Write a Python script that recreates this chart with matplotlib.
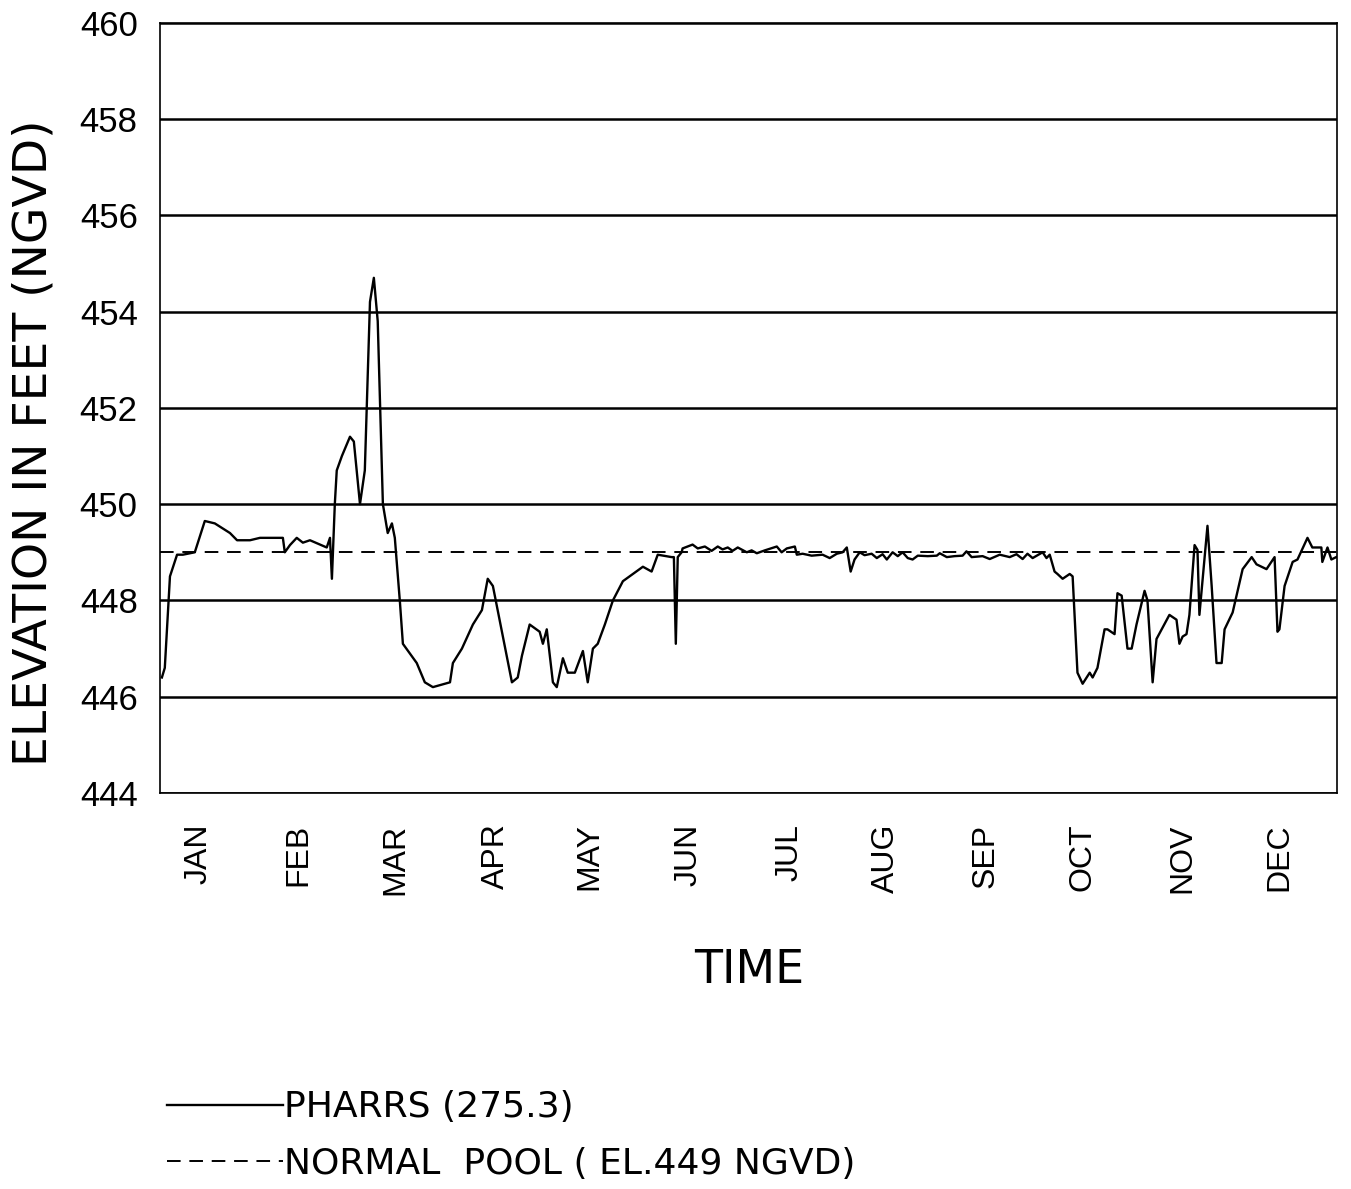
#Pharrs pool elevation over one year, recreated from a scanned plot
import matplotlib
matplotlib.use("Agg")
import matplotlib.pyplot as plt

narrow = ['DejaVu Sans Condensed', 'Liberation Sans Narrow', 'DejaVu Sans']
plt.rcParams['font.family'] = ['Liberation Sans', 'DejaVu Sans']

#day of year
days = [0.6, 1.5, 3.1, 5.3, 7.1, 10.8, 13.9, 17.0, 21.7, 23.9, 27.9, 31.0, 36.3, 38.1, 38.7,
	40.3, 42.4, 44.3, 46.5, 51.7, 52.7, 53.3, 54.2, 54.8, 56.4, 58.9, 60.1, 62.0, 63.5,
	65.1, 66.3, 67.5, 69.1, 70.6, 71.9, 72.8, 74.4, 75.3, 79.6, 82.1, 84.6, 89.9, 90.8,
	93.6, 97.0, 99.8, 101.6, 103.2, 109.1, 110.9, 112.2, 114.6, 117.7, 118.7, 119.9,
	121.8, 123.0, 124.9, 126.4, 128.6, 131.1, 132.6, 134.2, 135.7, 137.9, 140.4, 143.5,
	146.6, 149.7, 152.4, 154.3, 158.6, 159.3, 159.9, 160.5, 161.7, 162.0, 165.1, 166.7,
	168.9, 171.0, 172.9, 174.4, 176.0, 177.5, 179.1, 181.9, 183.4, 185.0, 187.5, 191.2,
	192.7, 194.3, 196.8, 197.4, 199.2, 202.0, 205.4, 207.6, 209.8, 211.6, 212.9, 214.1,
	215.3, 216.9, 218.4, 220.6, 222.2, 224.0, 225.3, 227.1, 228.7, 230.2, 231.8, 233.3,
	234.9, 238.0, 240.8, 241.7, 243.9, 246.3, 248.8, 250.0, 251.6, 255.0, 257.2, 260.3,
	263.4, 265.5, 267.4, 268.9, 270.5, 273.6, 274.8, 275.8, 277.3, 278.2, 279.8, 282.0,
	282.9, 284.4, 286.0, 288.2, 289.1, 290.6, 292.8, 293.7, 295.9, 296.8, 298.1, 299.9,
	301.2, 302.7, 305.2, 306.1, 307.7, 308.9, 312.9, 315.1, 316.0, 317.0, 318.2, 319.1,
	320.7, 321.6, 322.2, 324.7, 326.0, 327.5, 329.1, 330.0, 332.5, 335.6, 338.4, 339.9,
	343.0, 345.5, 346.4, 347.0, 348.6, 351.1, 352.6, 355.7, 357.2, 360.0, 360.3, 361.9,
	363.1, 364.6]

#elevation (ft, NGVD) at Pharrs
pharrs = [446.4, 446.6, 448.5, 448.95, 448.95, 449.0, 449.65, 449.6, 449.4, 449.25, 449.25,
	449.3, 449.3, 449.3, 449.0, 449.15, 449.3, 449.2, 449.25, 449.1, 449.3, 448.45, 450.0,
	450.7, 451.0, 451.4, 451.3, 450.0, 450.7, 454.2, 454.7, 453.8, 450.0, 449.4, 449.6,
	449.3, 447.95, 447.1, 446.7, 446.3, 446.2, 446.3, 446.7, 447.0, 447.5, 447.8, 448.45,
	448.3, 446.3, 446.4, 446.85, 447.5, 447.35, 447.1, 447.4, 446.3, 446.2, 446.8, 446.5,
	446.5, 446.95, 446.3, 447.0, 447.1, 447.5, 448.0, 448.4, 448.55, 448.7, 448.6, 448.95,
	448.9, 448.9, 447.1, 448.9, 449.0, 449.08, 449.16, 449.08, 449.12, 449.03, 449.12,
	449.06, 449.1, 449.03, 449.1, 449.0, 449.04, 448.98, 449.04, 449.12, 449.0, 449.08,
	449.12, 448.95, 448.97, 448.93, 448.95, 448.88, 448.97, 449.0, 449.1, 448.6, 448.85,
	449.0, 448.94, 448.97, 448.88, 448.96, 448.85, 449.0, 448.92, 449.0, 448.88, 448.85,
	448.93, 448.92, 448.93, 448.98, 448.9, 448.92, 448.93, 449.02, 448.9, 448.92, 448.86,
	448.95, 448.9, 448.96, 448.86, 448.97, 448.88, 449.0, 448.88, 448.95, 448.6, 448.55,
	448.45, 448.55, 448.5, 446.5, 446.27, 446.5, 446.4, 446.6, 447.4, 447.4, 447.3, 448.15,
	448.1, 447.0, 447.0, 447.5, 448.2, 448.0, 446.3, 447.2, 447.7, 447.6, 447.1, 447.25,
	447.3, 447.7, 449.15, 449.05, 447.7, 449.55, 448.3, 446.7, 446.7, 447.4, 447.75,
	448.65, 448.9, 448.75, 448.65, 448.9, 447.35, 447.4, 448.3, 448.8, 448.85, 449.3,
	449.1, 449.1, 448.8, 449.1, 448.85, 448.9]

normal_pool = 449.0
year_days = [0, 365]

months = ["JAN", "FEB", "MAR", "APR", "MAY", "JUN", "JUL", "AUG", "SEP", "OCT", "NOV", "DEC"]
month_pos = [12, 43, 73, 104, 133, 164, 195, 225, 256, 286, 317, 347]
yticks = [444, 446, 448, 450, 452, 454, 456, 458, 460]

fig = plt.figure(figsize=(13.51, 11.89), dpi=100)
ax = fig.add_axes([0.1184, 0.333, 0.8716, 0.648])

for y in yticks:
	ax.axhline(y, color="black", lw=1.8, zorder=1)

line1, = ax.plot(days, pharrs, color="black", lw=1.7, label="PHARRS (275.3)", zorder=3)
line2, = ax.plot(year_days, [normal_pool, normal_pool], color="black", lw=1.4,
	linestyle=(0, (7, 4.5)), label="NORMAL  POOL ( EL.449 NGVD)", zorder=2)

ax.set_xlim(0, 365)
ax.set_ylim(444, 460)
ax.set_yticks(yticks)
ax.set_yticklabels([str(y) for y in yticks], fontsize=25)
ax.set_xticks(month_pos)
ax.set_xticklabels(months, rotation=90, fontsize=23)
ax.tick_params(axis='both', length=0)
ax.tick_params(axis='y', pad=16)
ax.tick_params(axis='x', pad=22)
for s in ax.spines.values():
	s.set_linewidth(1.2)

ax.set_ylabel("ELEVATION IN FEET (NGVD)", fontsize=34, family=narrow)
ax.yaxis.set_label_coords(-0.088, 0.455)
ax.set_xlabel("TIME", fontsize=33, family=narrow, labelpad=38)

fig.legend(handles=[line1, line2], loc="upper left", bbox_to_anchor=(0.113, 0.095),
	frameon=False, prop={'family': narrow, 'size': 26}, handlelength=3.2,
	handletextpad=0.05, labelspacing=0.62, borderaxespad=0)

plt.savefig("out.png", dpi=100)
plt.close()
